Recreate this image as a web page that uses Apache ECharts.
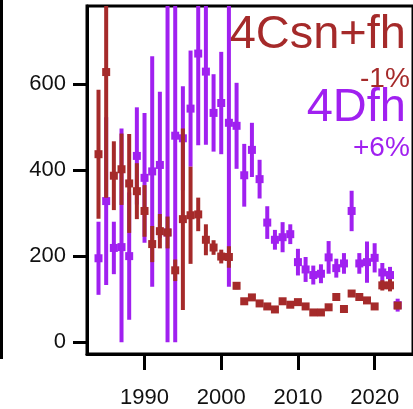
<!DOCTYPE html>
<html>
<head>
<meta charset="utf-8">
<script src="https://cdn.jsdelivr.net/npm/echarts@6/dist/echarts.min.js"></script>
<style>
  html, body { margin: 0; padding: 0; background: #ffffff; }
  #chart { width: 413px; height: 409px; }
</style>
</head>
<body>
<div id="chart"></div>
<script>
// Survey years
const years = [
  1984, 1985, 1986, 1987, 1988, 1989, 1990, 1991, 1992, 1993,
  1994, 1995, 1996, 1997, 1998, 1999, 2000, 2001, 2002, 2003,
  2004, 2005, 2006, 2007, 2008, 2009, 2010, 2011, 2012, 2013,
  2014, 2015, 2016, 2017, 2018, 2019, 2020, 2021, 2022, 2023
];

// 4Csn+fh: index value and half-width of its interval
const csnVal = [
  437, 628, 387, 402, 369, 351, 305, 228, 258, 255,
  167, 286, 295, 297, 238, 220, 199, 198, 131, 95,
  104, 90, 83, 76, 95, 87, 93, 83, 69, 69,
  81, 105, 77, 113, 105, 97, 83, 132, 132, 85
];
const csnErr = [
  150, 292, 80, 83, 115, 65, 60, 42, 40, 37,
  25, 211, 113, 39, 36, 17, 16, 25, 8, 5,
  5, 4, 4, 4, 4, 4, 4, 4, 4, 4,
  4, 4, 3, 4, 4, 4, 7, 12, 14, 8
];

// 4Dfh: index value and half-width of its interval
const dfhVal = [
  195, 328, 219, 221, 200, 433, 382, 397, 412, 255,
  480, 474, 543, 671, 629, 533, 556, 510, 503, 388,
  447, 379, 278, 238, 244, 251, 186, 169, 156, 159,
  197, 172, 183, 305, 183, 186, 196, 162, 156, 86
];
const dfhErr = [
  85, 195, 61, 276, 148, 113, 151, 268, 170, 600,
  520, 121, 135, 213, 170, 90, 119, 381, 100, 73,
  63, 45, 38, 23, 35, 23, 31, 29, 22, 22,
  38, 22, 24, 47, 24, 48, 34, 22, 19, 15
];

// Axis tick positions
const xTicks = [1990, 2000, 2010, 2020];
const yTicks = [0, 200, 400, 600];

// Text drawn in the upper right corner
const csnName = '4Csn+fh';
const csnTrend = '-1%';
const dfhName = '4Dfh';
const dfhTrend = '+6%';

const RED = '#A52A2A';
const PURPLE = '#A020F0';
const FONT = '"Liberation Sans", Arial, Helvetica, sans-serif';

// interval rows: [year, lower, upper]; lower bound floored at zero
function intervals(vals, errs) {
  return years.map((y, i) => [y, Math.max(0, vals[i] - errs[i]), vals[i] + errs[i]]);
}
function points(vals) {
  return years.map((y, i) => [y, vals[i]]);
}

function errorBar(color) {
  return function (params, api) {
    const a = api.coord([api.value(0), api.value(1)]);
    const b = api.coord([api.value(0), api.value(2)]);
    return {
      type: 'line',
      shape: { x1: a[0], y1: a[1], x2: b[0], y2: b[1] },
      style: { stroke: color, lineWidth: 4 }
    };
  };
}

const chart = echarts.init(document.getElementById('chart'), null, { renderer: 'canvas' });

chart.setOption({
  animation: false,
  backgroundColor: '#ffffff',
  grid: {
    left: 87, right: -10, top: 6, bottom: 51,
    show: true, borderColor: '#000000', borderWidth: 3,
    backgroundColor: 'transparent'
  },
  xAxis: {
    type: 'value', min: 1982.5, max: 2025,
    splitLine: { show: false },
    axisLine: { show: true, onZero: false, lineStyle: { color: '#000000', width: 3 } },
    axisTick: { show: true, length: 16, customValues: xTicks, lineStyle: { color: '#000000', width: 3 } },
    axisLabel: {
      customValues: xTicks, margin: 33, color: '#111111',
      fontFamily: FONT, fontSize: 22,
      formatter: v => String(v)
    }
  },
  yAxis: {
    type: 'value', min: -27.6, max: 781.6,
    splitLine: { show: false },
    axisLine: { show: true, onZero: false, lineStyle: { color: '#000000', width: 3 } },
    axisTick: { show: true, length: 14, customValues: yTicks, lineStyle: { color: '#000000', width: 3 } },
    axisLabel: {
      customValues: yTicks, margin: 21, color: '#111111',
      fontFamily: FONT, fontSize: 22,
      formatter: v => String(v)
    }
  },
  series: [
    {
      name: dfhName + ' interval', type: 'custom', clip: true,
      renderItem: errorBar(PURPLE),
      encode: { x: 0, y: [1, 2] },
      data: intervals(dfhVal, dfhErr), z: 2
    },
    {
      name: dfhName, type: 'scatter', clip: true,
      symbol: 'rect', symbolSize: 8,
      itemStyle: { color: PURPLE, opacity: 1 },
      data: points(dfhVal), z: 3
    },
    {
      name: csnName + ' interval', type: 'custom', clip: true,
      renderItem: errorBar(RED),
      encode: { x: 0, y: [1, 2] },
      data: intervals(csnVal, csnErr), z: 4
    },
    {
      name: csnName, type: 'scatter', clip: true,
      symbol: 'rect', symbolSize: 8,
      itemStyle: { color: RED, opacity: 1 },
      data: points(csnVal), z: 5
    }
  ],
  graphic: [
    // frame edge of the neighbouring panel
    { type: 'rect', left: 0, top: 0, shape: { width: 3, height: 359 }, style: { fill: '#000000' }, z: 10 },
    { type: 'text', z: 10, style: { text: csnName, x: 406, y: 35, align: 'right', verticalAlign: 'middle', fill: RED, font: '47px ' + FONT } },
    { type: 'text', z: 10, style: { text: csnTrend, x: 360, y: 79, align: 'left', verticalAlign: 'middle', fill: RED, font: '28px ' + FONT } },
    { type: 'text', z: 10, style: { text: dfhName, x: 406, y: 108, align: 'right', verticalAlign: 'middle', fill: PURPLE, font: '47px ' + FONT } },
    { type: 'text', z: 10, style: { text: dfhTrend, x: 353, y: 148, align: 'left', verticalAlign: 'middle', fill: PURPLE, font: '28px ' + FONT } }
  ]
});
</script>
</body>
</html>
